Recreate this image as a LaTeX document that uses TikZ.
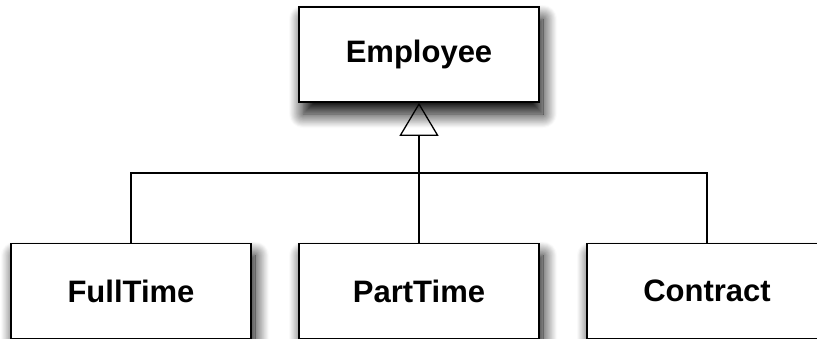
\documentclass[tikz,border=0pt]{standalone}
\usepackage{fontspec}
\setmainfont{Liberation Sans}
\usetikzlibrary{arrows.meta,shadows.blur}

\begin{document}
\begin{tikzpicture}[x=1pt,y=-1pt,
  classbox/.style={rectangle, draw, line width=1.6pt, fill=white,
    minimum width=240pt, minimum height=95pt, inner sep=0pt,
    font=\fontsize{31}{37}\selectfont\bfseries,
    blur shadow={shadow xshift=4pt, shadow yshift=-12pt,
      shadow blur radius=14pt, shadow blur steps=16, shadow opacity=100}}]
\useasboundingbox (0,0) rectangle (817,338);

\node (emp) at (419,54.5) [classbox] {Employee};

\node (ft) at (131,291) [classbox] {FullTime};
\node (pt) at (419,291) [classbox] {PartTime};
\node (ct) at (707,291) [classbox] {Contract};

\coordinate (bar) at (419,173);
\draw[line width=1.3pt] (ft.north) |- (bar) -| (ct.north);
\draw[line width=1.3pt, -{Triangle[open, length=33pt, width=39pt]}] (pt.north) -- (emp.south);
\end{tikzpicture}
\end{document}
